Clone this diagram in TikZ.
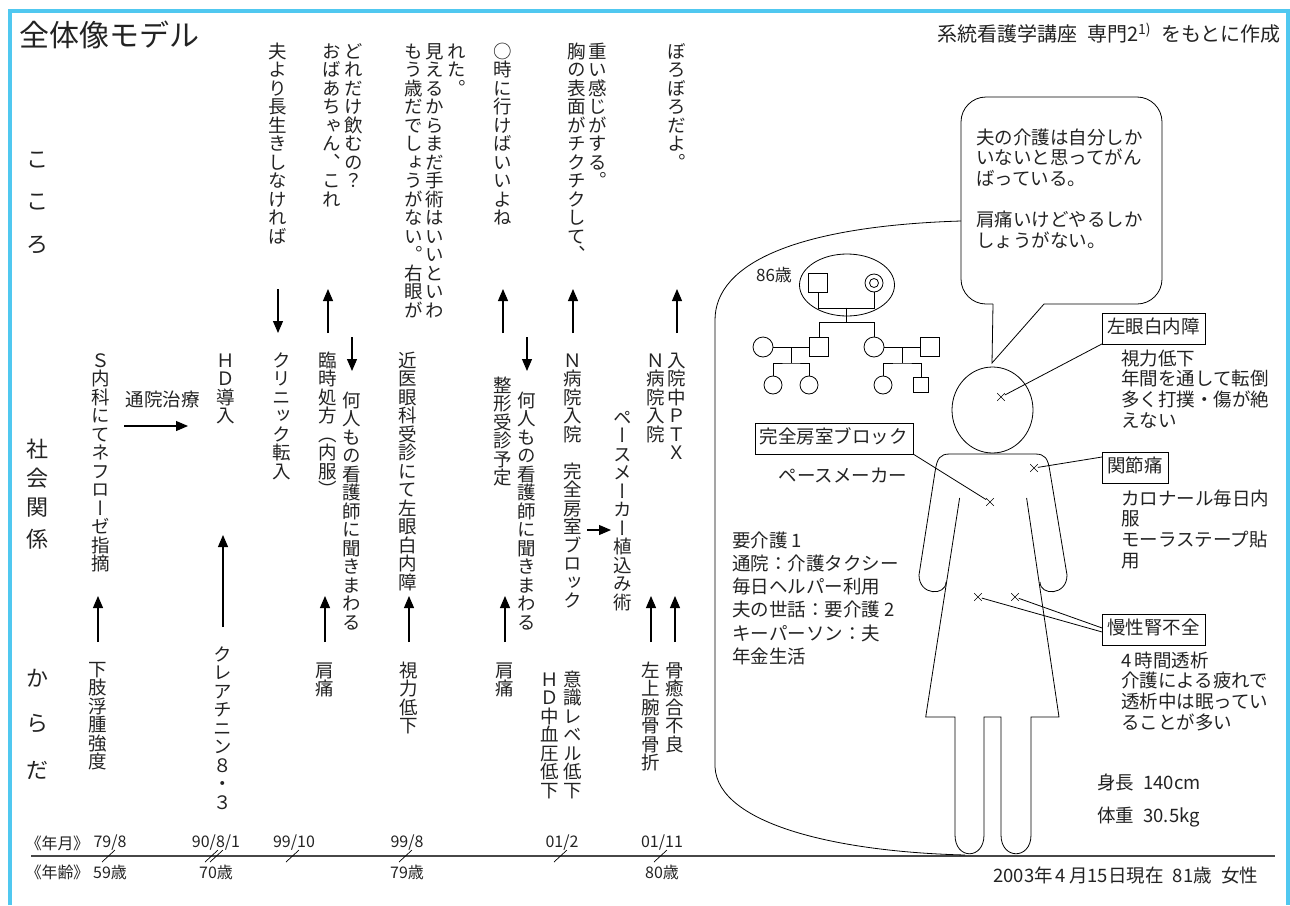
\documentclass[tikz,border=0pt]{standalone}
\usepackage{fontspec}
\usetikzlibrary{arrows.meta,shapes.misc,calc}
\setmainfont{Noto Sans CJK JP}
\newfontfamily\jpfont{Noto Sans CJK JP}
\newfontfamily\vjpfont[RawFeature=+vert]{Noto Sans CJK JP}
\newfontfamily\tlfont[RawFeature=+palt]{Noto Sans CJK JP}
\definecolor{rim}{RGB}{80,200,240}
\definecolor{ink}{RGB}{35,35,35}
% one vertical column, one glyph per em
\makeatletter
\newcommand\vcol[1]{\vtop{\offinterlineskip\@tfor\vch:=#1\do{\hbox to 1em{\vrule height .88em depth .12em width 0pt\hss\vch\hss}}}}
\makeatother
\newcommand\vgap{\kern3pt}

\begin{document}
\begin{tikzpicture}[x=1pt,y=-1pt,
	every node/.style={text=ink},
	tate/.style={anchor=north,inner sep=0pt,font=\vjpfont\fontsize{18.5}{18.5}\selectfont},
	yoko/.style={anchor=north west,inner sep=0pt,align=left,font=\jpfont\fontsize{18.5}{20.6}\selectfont},
	lbox/.style={draw,anchor=north west,inner xsep=5pt,inner ysep=6.5pt,text height=14pt,text depth=3.5pt,font=\jpfont\fontsize{18.5}{20.6}\selectfont},
	rowlbl/.style={inner sep=0pt,font=\jpfont\fontsize{22}{22}\selectfont},
	ym/.style={inner sep=0pt,font=\tlfont\fontsize{16}{16}\selectfont},
	arr/.style={-{Triangle[length=12pt,width=10pt]},line width=1.1pt},
	xmark/.style={draw,cross out,minimum size=7pt,inner sep=0pt,line width=.6pt},
	male/.style={draw,minimum size=19pt,inner sep=0pt,line width=.8pt},
	female/.style={draw,circle,minimum size=20pt,inner sep=0pt,line width=.8pt},
	body/.style={line width=.8pt}]
	\useasboundingbox (0,0) rectangle (1290,905);
	%rahmen
	\draw[rim,line width=4pt] (9.5,905) -- (9.5,10.5) -- (1288,10.5) -- (1288,905);
	\node[anchor=west,inner sep=0pt,font=\jpfont\fontsize{30}{30}\selectfont] (title) at (19,35) {全体像モデル};
	\node[anchor=east,inner sep=0pt,font=\jpfont\fontsize{20}{20}\selectfont] (source) at (1281,33) {系統看護学講座\enspace 専門2\textsuperscript{1)}\enspace をもとに作成};
	\foreach \c/\y in {こ/160,こ/202,ろ/245,社/449,会/478,関/508,係/539,か/678,ら/724,だ/770}
		\node[rowlbl] (row\y) at (37,\y) {\c};
	%kokoro
	\node[tate] (kokoro1) at (278,42) {\vcol{夫より長生きしなければ}};
	\node[tate] (kokoro2) at (342.5,42) {\vcol{おばあちゃん、これ}\vgap\vcol{どれだけ飲むの？}};
	\node[tate] (kokoro3) at (435,42) {\vcol{もう歳だでしょうがない。右眼が}\vgap\vcol{見えるからまだ手術はいいといわ}\vgap\vcol{れた。}};
	\node[tate] (kokoro4) at (503,42) {\vcol{○時に行けばいいよね}};
	\node[tate] (kokoro5) at (587,42) {\vcol{胸の表面がチクチクして、}\vgap\vcol{重い感じがする。}};
	\node[tate] (kokoro6) at (677,42) {\vcol{ぼろぼろだよ。}};
	%shakai
	\node[tate] (shakai1) at (101,351) {\vcol{Ｓ内科にてネフローゼ指摘}};
	\node[tate] (shakai2) at (226,351) {\vcol{ＨＤ導入}};
	\node[tate] (shakai3) at (282,351) {\vcol{クリニック転入}};
	\node[tate] (shakai4) at (328,351) {\vcol{臨時処方（内服）}};
	\node[tate] (shakai5) at (352,391) {\vcol{何人もの看護師に聞きまわる}};
	\node[tate] (shakai6) at (408,351) {\vcol{近医眼科受診にて左眼白内障}};
	\node[tate] (shakai7) at (503,376) {\vcol{整形受診予定}};
	\node[tate] (shakai8) at (527,391) {\vcol{何人もの看護師に聞きまわる}};
	\node[tate] (shakai9) at (573,351) {\vcol{Ｎ病院入院　完全房室ブロック}};
	\node[tate] (shakai10) at (623,408) {\vcol{ペースメーカー植込み術}};
	\node[tate] (shakai11) at (666,351) {\vcol{Ｎ病院入院}\vgap\vcol{入院中ＰＴＸ}};
	\node[yoko,anchor=center] (tsuin) at (162.5,399) {通院治療};
	%karada
	\node[tate] (karada1) at (98,660) {\vcol{下肢浮腫強度}};
	\node[tate] (karada2) at (223,645) {\vcol{クレアチニン８・３}};
	\node[tate] (karada3) at (325,661) {\vcol{肩痛}};
	\node[tate] (karada4) at (409,661) {\vcol{視力低下}};
	\node[tate] (karada5) at (505,661) {\vcol{肩痛}};
	\node[tate] (karada6) at (561.5,670) {\vcol{ＨＤ中血圧低下}\kern4.5pt\vcol{意識レベル低下}};
	\node[tate] (karada7) at (651,661) {\vcol{左上腕骨骨折}};
	\node[tate] (karada8) at (675,661) {\vcol{骨癒合不良}};
	%pfeile
	\coordinate (bandA1) at (0,289); \coordinate (bandA2) at (0,333);
	\coordinate (bandB1) at (0,337); \coordinate (bandB2) at (0,371);
	\coordinate (bandC1) at (0,596); \coordinate (bandC2) at (0,642);
	\draw[arr] (kokoro1 |- bandA1) -- (kokoro1 |- bandA2);
	\draw[arr] (shakai4 |- bandA2) -- (shakai4 |- bandA1);
	\draw[arr] (kokoro4 |- bandA2) -- (kokoro4 |- bandA1);
	\draw[arr] (shakai9 |- bandA2) -- (shakai9 |- bandA1);
	\draw[arr] (kokoro6 |- bandA2) -- (kokoro6 |- bandA1);
	\draw[arr] (shakai5 |- bandB1) -- (shakai5 |- bandB2);
	\draw[arr] (shakai8 |- bandB1) -- (shakai8 |- bandB2);
	\draw[arr] (karada1 |- bandC2) -- (karada1 |- bandC1);
	\draw[arr] (karada3 |- bandC2) -- (karada3 |- bandC1);
	\draw[arr] (karada4 |- bandC2) -- (karada4 |- bandC1);
	\draw[arr] (karada5 |- bandC2) -- (karada5 |- bandC1);
	\draw[arr] (karada7 |- bandC2) -- (karada7 |- bandC1);
	\draw[arr] (karada8 |- bandC2) -- (karada8 |- bandC1);
	\draw[arr] ([yshift=18pt]karada2.north) -- (karada2 |- 0,535);
	\coordinate (tsuinY) at (0,426);
	\draw[arr,shorten <=23pt,shorten >=38pt] (shakai1 |- tsuinY) -- (shakai2 |- tsuinY);
	\coordinate (pmY) at (0,530);
	\draw[arr,shorten <=14pt,shorten >=12pt] (shakai9 |- pmY) -- (shakai10 |- pmY);
	%zeitachse
	\coordinate (tlA) at (31,856); \coordinate (tlB) at (1275,856);
	\draw[line width=2pt,draw=black!72] (tlA) -- (tlB);
	\node[ym] (ymlbl) at (57.5,843) {《年月》};
	\node[ym] (agelbl) at (57.5,872) {《年齢》};
	\node[ym] (d1) at (110,843) {79/8};
	\node[ym] (d2) at (216,843) {90/8/1};
	\node[ym] (d3) at (294,843) {99/10};
	\node[ym] (d4) at (407,843) {99/8};
	\node[ym] (d5) at (562,843) {01/2};
	\node[ym] (d6) at (662,843) {01/11};
	\node[ym] (a1) at (110,872) {59歳};
	\node[ym] (a2) at (216,872) {70歳};
	\node[ym] (a4) at (407,872) {79歳};
	\node[ym] (a6) at (662,872) {80歳};
	\foreach \d in {d1,d3,d4,d5,d6}
		\draw[line width=.7pt] (\d |- tlA) ++(-8,6) -- ++(13,-12);
	\draw[line width=.7pt] (d2 |- tlA) ++(-11,6) -- ++(13,-12);
	\draw[line width=.7pt] (d2 |- tlA) ++(-6,6) -- ++(13,-12);
	%umriss
	\draw[body] (961,221) .. controls (800,226) and (715,262) .. (715,320) -- (715,767) .. controls (718,825) and (840,852) .. (965,855);
	%sprechblase
	\draw[body,rounded corners=25pt] (1044,304) -- (1162,304) -- (1162,97) -- (961,97) -- (961,304) -- (993,304);
	\draw[body] (993,304) -- (992,363) -- (1044,304);
	\node[yoko] (voice) at (976,128.5) {夫の介護は自分しか\\いないと思ってがん\\ばっている。\\[20.6pt]肩痛いけどやるしか\\しょうがない。};
	%stammbaum
	\node[male] (gf) at (818,283) {};
	\node[female,minimum size=18pt] (gm) at (874,283) {};
	\node[female,minimum size=9pt] (gmin) at (gm) {};
	\draw[body] (847,285) ellipse [x radius=47.5,y radius=31];
	\node[inner sep=0pt,font=\jpfont\fontsize{17}{17}\selectfont] (age86) at (774,275) {86歳};
	\draw[body] (gf.south) -- ++(0,15) -| (gm.south);
	\coordinate (gpc) at ($(gf.south)!.5!(gm.south)+(0,15)$);
	\node[female] (w1) at (763,347) {};
	\node[male] (s1) at (819,347) {};
	\node[female] (dau) at (874,347) {};
	\node[male] (h2) at (930,347) {};
	\node[female,minimum size=18pt] (k1) at (773,385) {};
	\node[female,minimum size=18pt] (k2) at (809,385) {};
	\node[female,minimum size=18pt] (k3) at (883,385) {};
	\node[male,minimum size=15pt] (k4) at (921,385) {};
	\draw[body] (gpc) -- ++(0,15) coordinate (sib);
	\draw[body] (s1.north) |- (sib) -| (dau.north);
	\draw[body] (w1.east) -- (s1.west);
	\draw[body] ($(w1.east)!.5!(s1.west)$) -- ++(0,16) coordinate (sib1);
	\draw[body] (k1.north) |- (sib1) -| (k2.north);
	\draw[body] (dau.east) -- (h2.west);
	\draw[body] ($(dau.east)!.5!(h2.west)$) -- ++(0,16) coordinate (sib2);
	\draw[body] (k3.north) |- (sib2) -| (k4.north);
	%figur
	\draw[body] (992.5,410) ellipse [x radius=40.5,y radius=43];
	\draw[body] (946,582) .. controls (946,596) and (919,596) .. (919,575) -- (935,472) .. controls (937,458) and (940,454) .. (950,454) -- (1035,454) .. controls (1045,454) and (1048,458) .. (1050,472) -- (1067,575) .. controls (1067,596) and (1040,596) .. (1040,582);
	\draw[body] (959.6,498) -- (925.7,717) -- (955,717) -- (955,835) .. controls (955,860) and (984,860) .. (984,835) -- (984,717) -- (1001,717) -- (1001,835) .. controls (1001,860) and (1031,860) .. (1031,835) -- (1031,717) -- (1059,717) -- (1026.6,498);
	\node[xmark] (xeye) at (1001,397) {};
	\node[xmark] (xjoint) at (1034,468) {};
	\node[xmark] (xheart) at (990,502) {};
	\node[xmark] (xkid1) at (978,597) {};
	\node[xmark] (xkid2) at (1015,597) {};
	%befunde
	\node[lbox] (eye) at (1102,313) {左眼白内障};
	\node[yoko] (eyenote) at (1121,349.5) {視力低下\\年間を通して転倒\\多く打撲・傷が絶\\えない};
	\draw[body] (eye.south west) -- (xeye);
	\node[lbox] (block) at (754.5,423) {完全房室ブロック};
	\node[yoko,anchor=center] (pacer) at (843,475) {ペースメーカー};
	\draw[body] (block.south east) -- (xheart);
	\node[lbox] (joint) at (1102,452) {関節痛};
	\node[yoko] (jointnote) at (1121,489.5) {カロナール毎日内\\服\\モーラステープ貼\\用};
	\draw[body] ([yshift=-5pt]joint.north west) -- (xjoint);
	\node[yoko,font=\jpfont\fontsize{18.5}{23.2}\selectfont] (care) at (732,531.5) {要介護 1\\通院：介護タクシー\\毎日ヘルパー利用\\夫の世話：要介護 2\\キーパーソン：夫\\年金生活};
	\node[lbox] (kidney) at (1102,614) {慢性腎不全};
	\node[yoko] (kidneynote) at (1121,651.5) {4\,時間透析\\介護による疲れで\\透析中は眠ってい\\ることが多い};
	\draw[body] ([yshift=-2.5pt]kidney.west) -- (xkid1);
	\draw[body] ([yshift=1.5pt]kidney.west) -- (xkid2);
	\node[yoko,anchor=west] (height) at (1097,782) {身長\enspace 140cm};
	\node[yoko,anchor=west] (weight) at (1097,817) {体重\enspace 30.5kg};
	\node[yoko,anchor=west] (today) at (993,875) {2003年\,4\,月15日現在\enspace 81歳\enspace 女性};
\end{tikzpicture}
\end{document}
